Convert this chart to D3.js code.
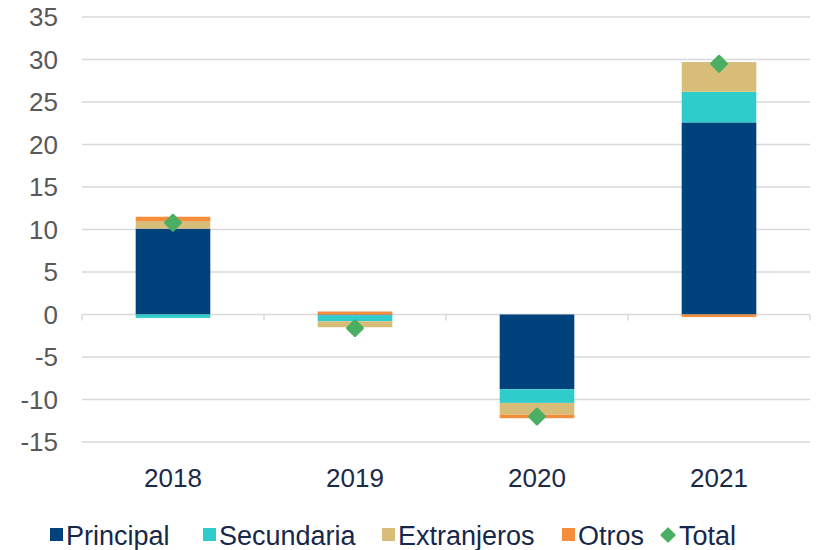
<!DOCTYPE html>
<html>
  <head>
    <meta charset="UTF-8">
    <title>chart</title>
    <script src="https://d3js.org/d3.v7.min.js"></script>
    <style>
      body { margin: 0; background: #fff; }
      text { font-family: "Liberation Sans", Arial, sans-serif; }
    </style>
  </head>

  <body>
    <div class="chart"></div>

    <script type="application/javascript">
      const years = ["2018", "2019", "2020", "2021"];
      const seriesNames = ["Principal", "Secundaria", "Extranjeros", "Otros"];
      const principal = [10.1, -0.1, -8.8, 22.6];
      const secundaria = [-0.4, -0.7, -1.6, 3.6];
      const extranjeros = [0.9, -0.7, -1.4, 3.5];
      const otros = [0.5, 0.35, -0.4, -0.3];
      const total = [10.8, -1.6, -12.0, 29.5];
      const yTicks = [-15, -10, -5, 0, 5, 10, 15, 20, 25, 30, 35];
      const colors = ["#00427c", "#2ecdcb", "#d7bd78", "#f68d3b"];
      const totalColor = "#4aaf63";

      const width = 817, height = 550;
      const margin = {left: 82, right: 7, top: 17, bottom: 108};

      const svg = d3.select(".chart").append("svg")
        .attr("width", width).attr("height", height);

      const x = d3.scaleBand().domain(years)
        .range([margin.left, width - margin.right])
        .paddingInner(0.59).paddingOuter(0.295);
      const y = d3.scaleLinear().domain([-15, 35])
        .range([height - margin.bottom, margin.top]);

      // gridlines
      svg.append("g").selectAll("line").data(yTicks.filter(d => d != 0)).join("line")
        .attr("x1", margin.left).attr("x2", width - margin.right)
        .attr("y1", d => y(d)).attr("y2", d => y(d))
        .attr("stroke", "#d9d9d9").attr("stroke-width", 1.5);

      // y labels
      svg.append("g").selectAll("text").data(yTicks).join("text")
        .attr("x", 58).attr("y", d => y(d))
        .attr("dy", "0.36em")
        .attr("text-anchor", "end")
        .attr("font-size", 26)
        .attr("fill", "#595959")
        .text(d => d);

      // zero axis with ticks at category boundaries
      const axis = svg.append("g").attr("stroke", "#d9d9d9").attr("stroke-width", 1.5);
      axis.append("line")
        .attr("x1", margin.left).attr("x2", width - margin.right)
        .attr("y1", y(0)).attr("y2", y(0));
      const step = x.step();
      d3.range(years.length + 1).forEach(k => {
        const xx = margin.left + k * step;
        axis.append("line").attr("x1", xx).attr("x2", xx)
          .attr("y1", y(0)).attr("y2", y(0) + 6);
      });

      // stacked bars (positive and negative stacked separately)
      const values = [principal, secundaria, extranjeros, otros];
      years.forEach((yr, i) => {
        let pos = 0, neg = 0;
        values.forEach((arr, s) => {
          const v = arr[i];
          let y0, y1;
          if (v >= 0) { y0 = pos; y1 = pos + v; pos = y1; }
          else { y0 = neg; y1 = neg + v; neg = y1; }
          svg.append("rect")
            .attr("x", x(yr)).attr("width", x.bandwidth())
            .attr("y", y(Math.max(y0, y1)))
            .attr("height", Math.abs(y(y0) - y(y1)))
            .attr("fill", colors[s]);
        });
      });

      // total markers
      const dsym = d3.symbol().type(d3.symbolDiamond2).size(140);
      svg.append("g").selectAll("path").data(total).join("path")
        .attr("d", dsym)
        .attr("transform", (d, i) => `translate(${x(years[i]) + x.bandwidth() / 2},${y(d)})`)
        .attr("fill", totalColor)
        .attr("stroke", totalColor).attr("stroke-width", 3)
        .attr("stroke-linejoin", "round");

      // x labels
      svg.append("g").selectAll("text").data(years).join("text")
        .attr("x", d => x(d) + x.bandwidth() / 2)
        .attr("y", 487)
        .attr("text-anchor", "middle")
        .attr("font-size", 26)
        .attr("fill", "#1b2a48")
        .text(d => d);

      // legend
      const legendItems = seriesNames.concat(["Total"]);
      const legendX = [50, 203, 382, 562, 660];
      const lg = svg.append("g");
      legendItems.forEach((name, i) => {
        const g = lg.append("g").attr("transform", `translate(${legendX[i]},535)`);
        if (i < 4) {
          g.append("rect").attr("x", 0).attr("y", -7).attr("width", 13).attr("height", 13)
            .attr("fill", colors[i]);
        } else {
          g.append("path").attr("d", d3.symbol().type(d3.symbolDiamond2).size(110)())
            .attr("transform", "translate(8,0)")
            .attr("fill", totalColor)
            .attr("stroke", totalColor).attr("stroke-width", 2)
            .attr("stroke-linejoin", "round");
        }
        g.append("text").attr("x", i < 4 ? 16 : 19).attr("y", 0).attr("dy", "0.36em")
          .attr("font-size", 27)
          .attr("fill", "#16284a")
          .text(name);
      });
    </script>
  </body>
</html>
